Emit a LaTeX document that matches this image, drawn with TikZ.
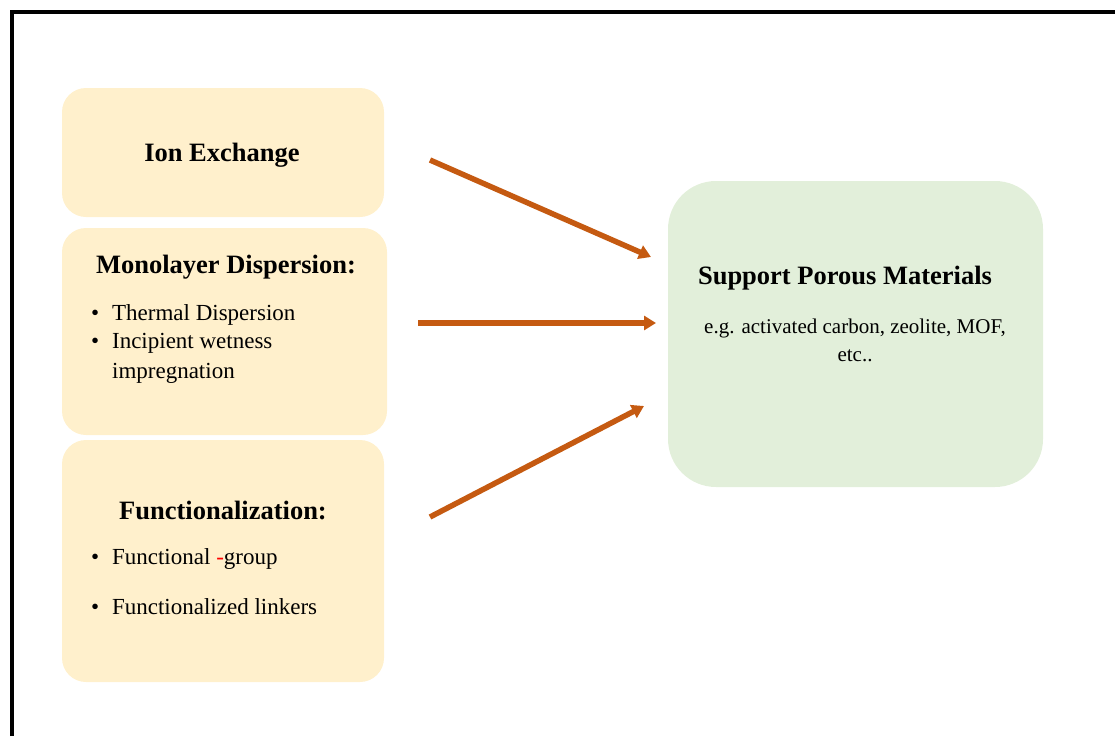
\documentclass[tikz,border=0pt]{standalone}
\usepackage{fontspec}
\setmainfont{Liberation Serif}
\usepackage{tikz}
\usetikzlibrary{positioning,arrows.meta}
\definecolor{mypaleyellow}{RGB}{255, 240, 204}
\definecolor{mypalegreen}{RGB}{226, 239, 218}
\definecolor{myrust}{RGB}{197, 90, 17}
\tikzset{every picture/.style={line width=0.75pt}}
\tikzset{
  methodbox/.style={draw=none, fill=mypaleyellow, rounded corners=24pt, inner sep=0pt},
  supportbox/.style={draw=none, fill=mypalegreen, rounded corners=48pt, inner sep=0pt},
  headtext/.style={inner sep=0.75pt, font=\fontsize{26.5}{30}\selectfont\bfseries},
  bodytext/.style={inner sep=0.75pt, font=\fontsize{23}{30.5}\selectfont},
  bigarrow/.style={draw=myrust, line width=5.5pt, -{Triangle[length=12pt,width=14pt]}}
}
\newcommand{\bul}{\makebox[27pt][l]{\hspace{6pt}\textbullet}}

\begin{document}
\begin{tikzpicture}[x=1pt,y=-1pt]
\useasboundingbox (0,0) rectangle (1115,736);

%Frame
\draw [line width=4pt] (12,736) -- (12,12) -- (1115,12) ;

%Shape: Rounded Rect [id:ionbox]
\node [methodbox, minimum width=322pt, minimum height=129pt] (ion) at (223,152.5) {};
%Shape: Rounded Rect [id:monobox]
\node [methodbox, minimum width=325pt, minimum height=207pt] (mono) at (224.5,331.5) {};
%Shape: Rounded Rect [id:funcbox]
\node [methodbox, minimum width=322pt, minimum height=242pt] (func) at (223,561) {};
%Shape: Rounded Rect [id:supportbox]
\node [supportbox, minimum width=375pt, minimum height=306pt] (support) at (855.5,334) {};

% Text Node
\node [headtext] (ionhead) at (222,155) {Ion Exchange};
% Text Node
\node [headtext] (monohead) at (226,267) {Monolayer Dispersion:};
% Text Node
\node [bodytext, anchor=west] (monoa) at (84,315) {\bul Thermal Dispersion};
% Text Node
\node [bodytext, anchor=north west, align=left] (monob) at (84,332) {\bul Incipient wetness\\\hspace{27pt}impregnation};
% Text Node
\node [headtext] (funchead) at (223,510) {Functionalization:};
% Text Node
\node [bodytext, anchor=west] (funca) at (84,559) {\bul Functional \textcolor{red}{-}group};
% Text Node
\node [bodytext, anchor=west] (funcb) at (84,607) {\bul Functionalized linkers};
% Text Node
\node [headtext] (supporthead) at (845,278) {Support Porous Materials};
% Text Node
\node [bodytext, align=center, font=\fontsize{21}{28}\selectfont] (supportbody) at (855,340) {e.g. activated carbon, zeolite, MOF,\\etc..};

%Straight Lines [arrow ends]
\coordinate (ionout) at (430,160);
\coordinate (ionin) at (651,257);
\coordinate (monoout) at (418,323);
\coordinate (monoin) at (656,323);
\coordinate (funcout) at (430,517);
\coordinate (funcin) at (644,406);
\draw [bigarrow] (ionout) -- (ionin) ;
\draw [bigarrow] (monoout) -- (monoin) ;
\draw [bigarrow] (funcout) -- (funcin) ;

\end{tikzpicture}
\end{document}
